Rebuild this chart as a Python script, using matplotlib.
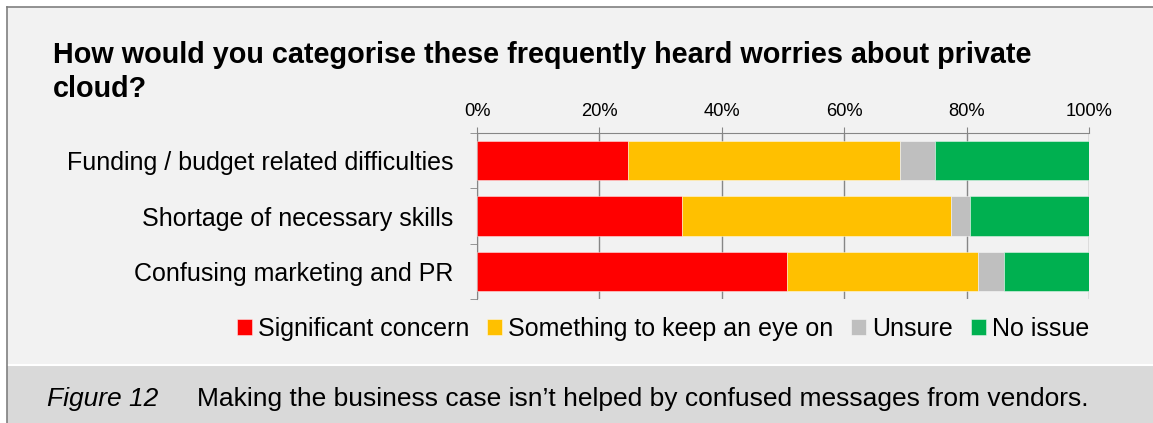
import matplotlib.pyplot as plt
import matplotlib.patches as mpatches
import numpy as np

plt.rcParams['font.family'] = ['Liberation Sans', 'DejaVu Sans']

# Survey responses, share of respondents per worry (%)
categories = ['Funding / budget related difficulties',
              'Shortage of necessary skills',
              'Confusing marketing and PR']
series = ['Significant concern', 'Something to keep an eye on', 'Unsure', 'No issue']
significant = [24.7, 33.5, 50.6]
keep_eye = [44.4, 43.9, 31.3]
unsure = [5.8, 3.1, 4.2]
no_issue = [25.1, 19.5, 13.9]
colors = ['#FF0000', '#FFC000', '#BFBFBF', '#00B050']

W, H = 1153, 423
fig = plt.figure(figsize=(W / 100, H / 100), dpi=100)
fig.patch.set_facecolor('white')

# panel background, caption band and frame lines
fig.patches.append(mpatches.Rectangle((7 / W, 0), 1, 1 - 7 / H, transform=fig.transFigure,
                                      facecolor='#F2F2F2', edgecolor='none', zorder=-3))
fig.patches.append(mpatches.Rectangle((7 / W, 0), 1, (H - 366) / H, transform=fig.transFigure,
                                      facecolor='#D9D9D9', edgecolor='none', zorder=-2))
fig.lines.append(plt.Line2D([7 / W, 1], [(H - 365) / H] * 2, transform=fig.transFigure,
                            color='white', lw=1.5))
fig.lines.append(plt.Line2D([7 / W, 1], [1 - 7 / H] * 2, transform=fig.transFigure,
                            color='#7F7F7F', lw=1.2))
fig.lines.append(plt.Line2D([7 / W] * 2, [0, 1 - 7 / H], transform=fig.transFigure,
                            color='#7F7F7F', lw=1.2))

ax = fig.add_axes([477 / W, 1 - 299 / H, (1089 - 477) / W, (299 - 133) / H])
ax.set_facecolor('none')

y = np.arange(len(categories))
left = np.zeros(len(categories))
for vals, name, c in zip([significant, keep_eye, unsure, no_issue], series, colors):
    ax.barh(y, vals, left=left, height=0.705, color=c, label=name, zorder=3,
            edgecolor=(1, 1, 1, 0.45), linewidth=0.7)
    left += np.array(vals)

ax.set_xlim(0, 100)
ax.set_ylim(len(categories) - 0.5, -0.5)
ax.set_xticks(np.arange(0, 101, 20))
ax.set_xticklabels([f'{v}%' for v in range(0, 101, 20)])
ax.xaxis.tick_top()
ax.tick_params(axis='x', length=4.5, color='#868686', labelsize=13.2, pad=5)
ax.grid(axis='x', color='#868686', lw=1, zorder=0)

ax.set_yticks(y)
ax.set_yticklabels(categories, fontsize=18)
ax.set_yticks(np.arange(-0.5, len(categories)), minor=True)
ax.tick_params(axis='y', which='major', length=0, pad=17)
ax.tick_params(axis='y', which='minor', length=5, color='#868686')

for s in ['right', 'bottom']:
    ax.spines[s].set_visible(False)
for s in ['left', 'top']:
    ax.spines[s].set_color('#868686')

fig.text(53 / W, 1 - 63 / H, 'How would you categorise these frequently heard worries about private',
         fontsize=20.7, fontweight='bold', va='baseline', ha='left')
fig.text(53 / W, 1 - 97 / H, 'cloud?', fontsize=20.7, fontweight='bold', va='baseline', ha='left')

handles, labels = ax.get_legend_handles_labels()
fig.legend(handles, labels, loc='center', bbox_to_anchor=(663 / W, 1 - 329 / H), ncol=4,
           frameon=False, fontsize=18, handlelength=0.6, handleheight=0.6,
           handletextpad=0.25, columnspacing=0.7)

fig.text(47 / W, 1 - 406 / H, 'Figure 12', fontsize=19, style='italic', va='baseline')
fig.text(197 / W, 1 - 406 / H, 'Making the business case isn\u2019t helped by confused messages from vendors.',
         fontsize=19, va='baseline')

fig.savefig('out.png', dpi=100)
